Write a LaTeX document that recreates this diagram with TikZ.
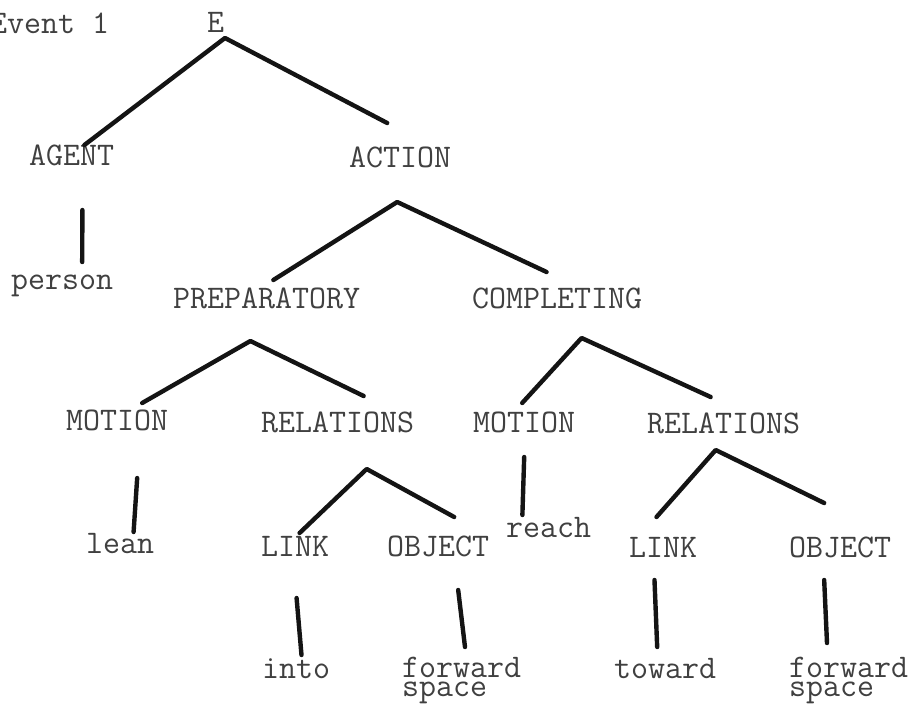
\documentclass[tikz,border=0pt]{standalone}
\usepackage{fontspec}
\usepackage{tikz}

\tikzset{
	parola/.style={anchor=base west, inner sep=0pt, text=black!75, font=\ttfamily\fontsize{33}{18.5}\selectfont},
	ramo/.style={line width=4.4pt, line cap=round, line join=round, black!92}
}

\begin{document}
\begin{tikzpicture}[x=1pt, y=-1pt]
			\useasboundingbox (0,0) rectangle (914,707);
			\begin{scope}
				% livelli dell'albero
				\node[parola] (ev) at (-10,33) {Event 1};
				\node[parola] (e) at (207,32) {E};
				\node[parola] (agent) at (29,165) {AGENT};
				\node[parola] (action) at (349,167) {ACTION};
				\node[parola] (person) at (11,289) {person};
				\node[parola] (prep) at (173,308) {PREPARATORY};
				\node[parola] (compl) at (472,308) {COMPLETING};
				\node[parola] (motA) at (66,430) {MOTION};
				\node[parola] (relA) at (261,432) {RELATIONS};
				\node[parola] (motB) at (473,432) {MOTION};
				\node[parola] (relB) at (647,433) {RELATIONS};
				\node[parola] (lean) at (86,553) {lean};
				\node[parola] (linkA) at (261,556) {LINK};
				\node[parola] (objA) at (387,556) {OBJECT};
				\node[parola] (reach) at (506,537) {reach};
				\node[parola] (linkB) at (629,557) {LINK};
				\node[parola] (objB) at (789,557) {OBJECT};
				\node[parola] (into) at (262,678) {into};
				\node[parola, anchor=north west, align=left] (fwdA) at (402,657) {forward\\space};
				\node[parola] (toward) at (614,678) {toward};
				\node[parola, anchor=north west, align=left] (fwdB) at (789,657) {forward\\space};

				\draw[ramo] ([shift={(12.7,-20)}]agent.base) -- ([shift={(9.3,6)}]e.base) -- ([shift={(-13,-44)}]action.base); % da E
				\draw[ramo] ([shift={(10.7,45)}]agent.base) -- ([shift={(20,-27)}]person.base); % da AGENT a person
				\draw[ramo] ([shift={(6.7,-28)}]prep.base) -- ([shift={(-3,35)}]action.base) -- ([shift={(-10.6,-36)}]compl.base); % da ACTION

				\draw[ramo] ([shift={(25,-27)}]motA.base) -- ([shift={(-16.3,33)}]prep.base) -- ([shift={(26,-36)}]relA.base); % da PREPARATORY
				\draw[ramo] ([shift={(-2,-29)}]motB.base) -- ([shift={(24.4,30)}]compl.base) -- ([shift={(-13,-36)}]relB.base); % da COMPLETING

				\draw[ramo] ([shift={(20,48)}]motA.base) -- ([shift={(13.4,-21)}]lean.base); % da MOTION a lean
				\draw[ramo] ([shift={(4.4,-23)}]linkA.base) -- ([shift={(29,37)}]relA.base) -- ([shift={(16,-39)}]objA.base); % da RELATIONS
				\draw[ramo] ([shift={(0,25)}]motB.base) -- ([shift={(-26.3,-22)}]reach.base); % da MOTION a reach
				\draw[ramo] ([shift={(-6.7,-40)}]linkB.base) -- ([shift={(-8,17)}]relB.base) -- ([shift={(-16,-54)}]objB.base); % da RELATIONS

				\draw[ramo] ([shift={(1.4,42)}]linkA.base) -- ([shift={(5.3,-23)}]into.base); % da LINK a into
				\draw[ramo] ([shift={(20,34)}]objA.base) -- ([shift={(63,-10)}]fwdA.north west); % da OBJECT a forward
				\draw[ramo] ([shift={(-8.7,23)}]linkB.base) -- ([shift={(-8,-31)}]toward.base); % da LINK a toward
				\draw[ramo] ([shift={(-16,23)}]objB.base) -- ([shift={(38,-14)}]fwdB.north west); % da OBJECT a forward
			\end{scope}
		\end{tikzpicture}
\end{document}
